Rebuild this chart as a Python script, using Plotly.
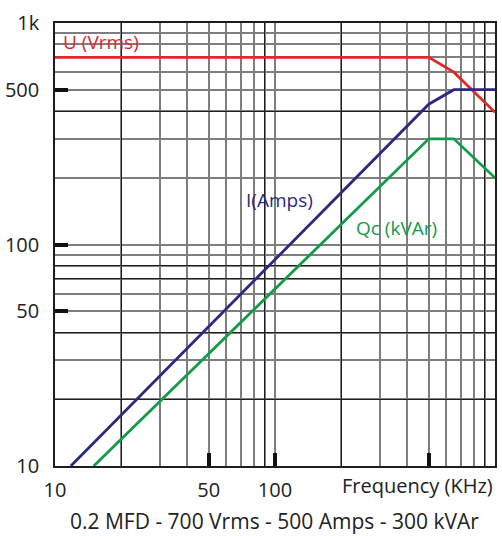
import plotly.graph_objects as go

# ---- data (frequency in kHz) ----
freq_U = [10, 500, 650, 1000]
U_vrms = [700, 700, 600, 395]

freq_I = [11.8, 500, 650, 1000]
I_amps = [10, 430, 500, 500]

freq_Q = [15, 500, 650, 1000]
Qc_kvar = [10, 300, 300, 200]

x_labels_vals = [10, 50, 100]
x_labels_text = ["10", "50", "100"]
y_labels_vals = [10, 50, 100, 500, 1000]
y_labels_text = ["10", "50", "100", "500", "1k"]

grid_vals = [10, 20, 30, 40, 50, 60, 70, 80, 90,
             100, 200, 300, 400, 500, 600, 700, 800, 900, 1000]
x_dark = [20, 90, 200, 900]
y_dark = [20, 40, 70, 80, 400]
x_bold_ticks = [50, 100, 500]
y_bold_ticks = [50, 100, 500, 1000]

RED = "#e3262b"
NAVY = "#2c2a80"
GREEN = "#139a4a"
GREY = "#7e7e7e"
DARK = "#1e1e1e"
FONT = "Open Sans"

fig = go.Figure()
# empty trace that registers the base subplot (labels + grey grid)
fig.add_trace(go.Scatter(x=[], y=[], xaxis="x", yaxis="y",
                         showlegend=False, hoverinfo="skip"))
# data curves on the top subplot (dark grid + bold ticks)
fig.add_trace(go.Scatter(x=freq_U, y=U_vrms, mode="lines", xaxis="x2", yaxis="y2",
                         line=dict(color=RED, width=2.8), showlegend=False))
fig.add_trace(go.Scatter(x=freq_I, y=I_amps, mode="lines", xaxis="x2", yaxis="y2",
                         line=dict(color=NAVY, width=2.8), showlegend=False))
fig.add_trace(go.Scatter(x=freq_Q, y=Qc_kvar, mode="lines", xaxis="x2", yaxis="y2",
                         line=dict(color=GREEN, width=2.8), showlegend=False))

minor_x = [v for v in grid_vals if v not in x_labels_vals]
minor_y = [v for v in grid_vals if v not in y_labels_vals]

fig.update_layout(
    width=502, height=536,
    margin=dict(l=55, r=5, t=23, b=70),
    paper_bgcolor="white", plot_bgcolor="rgba(0,0,0,0)",
    font=dict(family=FONT, color="#222222", size=20),
    xaxis=dict(
        type="log", range=[1, 3], domain=[0, 1], anchor="y",
        tickmode="array", tickvals=x_labels_vals, ticktext=x_labels_text,
        ticks="", showgrid=True, gridcolor=GREY, gridwidth=1.5,
        minor=dict(tickmode="array", tickvals=minor_x, showgrid=True,
                   gridcolor=GREY, gridwidth=1.5, ticks=""),
        showline=True, linecolor=DARK, linewidth=1.6, mirror=True,
        tickfont=dict(size=20), ticklabelstandoff=5, zeroline=False,
    ),
    yaxis=dict(
        type="log", range=[1, 3], domain=[0, 1], anchor="x",
        tickmode="array", tickvals=y_labels_vals, ticktext=y_labels_text,
        ticks="", showgrid=True, gridcolor=GREY, gridwidth=1.5,
        minor=dict(tickmode="array", tickvals=minor_y, showgrid=True,
                   gridcolor=GREY, gridwidth=1.5, ticks=""),
        showline=True, linecolor=DARK, linewidth=1.6, mirror=True,
        tickfont=dict(size=20), ticklabelstandoff=10, zeroline=False,
    ),
    xaxis2=dict(
        type="log", range=[1, 3], domain=[0, 1], anchor="y2", side="bottom",
        tickmode="array", tickvals=x_bold_ticks, showticklabels=False,
        ticks="inside", ticklen=13, tickwidth=3.5, tickcolor="#111111",
        showgrid=False, showline=False, zeroline=False,
        minor=dict(tickmode="array", tickvals=x_dark, showgrid=True,
                   gridcolor=DARK, gridwidth=1.4, ticks=""),
    ),
    yaxis2=dict(
        type="log", range=[1, 3], domain=[0, 1], anchor="x2", side="left",
        tickmode="array", tickvals=y_bold_ticks, showticklabels=False,
        ticks="inside", ticklen=13, tickwidth=3.5, tickcolor="#111111",
        showgrid=False, showline=False, zeroline=False,
        minor=dict(tickmode="array", tickvals=y_dark, showgrid=True,
                   gridcolor=DARK, gridwidth=1.4, ticks=""),
    ),
)

fig.add_annotation(text="U (Vrms)", xref="paper", yref="paper", x=0.014, y=0.957,
                   xanchor="left", yanchor="middle", showarrow=False,
                   font=dict(color=RED, size=19, family=FONT))
fig.add_annotation(text="I(Amps)", xref="paper", yref="paper", x=0.43, y=0.60,
                   xanchor="left", yanchor="middle", showarrow=False,
                   font=dict(color=NAVY, size=19, family=FONT))
fig.add_annotation(text="Qc (kVAr)", xref="paper", yref="paper", x=0.68, y=0.537,
                   xanchor="left", yanchor="middle", showarrow=False,
                   font=dict(color=GREEN, size=19, family=FONT))
fig.add_annotation(text="Frequency (KHz)", xref="paper", yref="paper", x=1.0, y=-0.043,
                   xanchor="right", yanchor="middle", showarrow=False,
                   font=dict(size=20, family=FONT))
fig.add_annotation(text="0.2 MFD - 700 Vrms - 500 Amps - 300 kVAr",
                   xref="paper", yref="paper", x=0.498, y=-0.124,
                   xanchor="center", yanchor="middle", showarrow=False,
                   font=dict(size=21, family=FONT))

fig.write_html(
    "out.html",
    config={"displayModeBar": False},
    post_script="document.body.style.margin='0';document.body.style.padding='0';"
                "document.body.style.overflow='hidden';",
)
